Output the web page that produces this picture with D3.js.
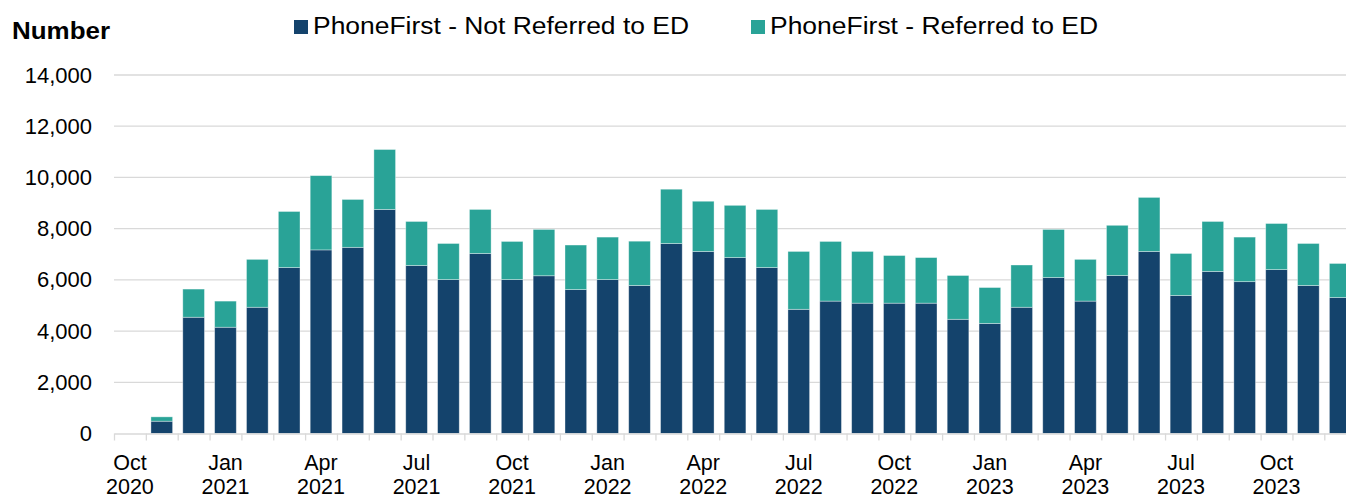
<!DOCTYPE html>
<html>
<head>
<meta charset="utf-8">
<script src="https://cdn.jsdelivr.net/npm/d3@7"></script>
<style>
  body { margin: 0; background: #fff; }
  svg { display: block; font-family: "Liberation Sans", Arial, sans-serif; }
</style>
</head>
<body>
<div id="chart"></div>
<script>
// months shown on the x axis
const months = [
  "Oct 2020", "Nov 2020", "Dec 2020",
  "Jan 2021", "Feb 2021", "Mar 2021", "Apr 2021", "May 2021", "Jun 2021",
  "Jul 2021", "Aug 2021", "Sep 2021", "Oct 2021", "Nov 2021", "Dec 2021",
  "Jan 2022", "Feb 2022", "Mar 2022", "Apr 2022", "May 2022", "Jun 2022",
  "Jul 2022", "Aug 2022", "Sep 2022", "Oct 2022", "Nov 2022", "Dec 2022",
  "Jan 2023", "Feb 2023", "Mar 2023", "Apr 2023", "May 2023", "Jun 2023",
  "Jul 2023", "Aug 2023", "Sep 2023", "Oct 2023", "Nov 2023", "Dec 2023"
];

// PhoneFirst - Not Referred to ED
const notReferred = [
  0, 480, 4540,
  4150, 4930, 6480, 7170, 7270, 8750, 6560, 6010, 7030, 6010, 6160, 5620,
  6010, 5780, 7420, 7110, 6870, 6480, 4850, 5170, 5090, 5090, 5090, 4460,
  4300, 4930, 6090, 5170, 6170, 7110, 5390, 6330, 5930, 6400, 5780, 5310
];

// PhoneFirst - Referred to ED
const referred = [
  0, 170, 1100,
  1020, 1870, 2190, 2900, 1870, 2340, 1720, 1410, 1720, 1490, 1810, 1740,
  1660, 1730, 2120, 1960, 2040, 2270, 2260, 2330, 2020, 1860, 1780, 1710,
  1400, 1650, 1880, 1630, 1960, 2110, 1640, 1950, 1740, 1800, 1640, 1330
];

const seriesNames = ["PhoneFirst - Not Referred to ED", "PhoneFirst - Referred to ED"];
const seriesColors = ["#14436c", "#29a397"];
const yTicks = [0, 2000, 4000, 6000, 8000, 10000, 12000, 14000];

const W = 1346, H = 499;
const plotLeft = 114, plotTop = 75, plotBottom = 433.5;
const step = 31.85;

const svg = d3.select("#chart").append("svg")
  .attr("width", W)
  .attr("height", H);

// scales
const x = d3.scaleBand()
  .domain(months)
  .range([plotLeft, plotLeft + step * months.length])
  .paddingInner(0.32)
  .paddingOuter(0.16);

const xEdge = d3.scaleLinear()
  .domain([0, months.length])
  .range([plotLeft, plotLeft + step * months.length]);

const y = d3.scaleLinear().domain([0, 14000]).range([plotBottom, plotTop]);

// gridlines
svg.append("g")
  .selectAll("line")
  .data(yTicks.slice(1))
  .join("line")
  .attr("x1", plotLeft)
  .attr("x2", W)
  .attr("y1", d => y(d))
  .attr("y2", d => y(d))
  .attr("stroke", "#d9d9d9")
  .attr("stroke-width", 1.3);

// y axis labels
svg.append("g")
  .attr("transform", "translate(92,0)")
  .style("font-size", "22px")
  .call(d3.axisLeft(y).tickValues(yTicks).tickFormat(d3.format(",")).tickSize(0).tickPadding(0))
  .call(g => g.select(".domain").remove())
  .selectAll(".tick text")
  .attr("fill", "#000")
  .style("font-family", "'Liberation Sans', Arial, sans-serif");

// stacked data
const table = months.map((m, i) => ({ month: m, notReferred: notReferred[i], referred: referred[i] }));
const stack = d3.stack().keys(["notReferred", "referred"]);
const layers = stack(table);

svg.append("g")
  .selectAll("g")
  .data(layers)
  .join("g")
  .attr("fill", (d, i) => seriesColors[i])
  .selectAll("rect")
  .data(d => d.filter(p => p[1] - p[0] > 0))
  .join("rect")
  .attr("x", d => x(d.data.month))
  .attr("width", x.bandwidth())
  .attr("y", d => y(d[1]))
  .attr("height", d => y(d[0]) - y(d[1]))
  .attr("stroke", "#ffffff")
  .attr("stroke-opacity", 0.45)
  .attr("stroke-width", 0.8);

// x axis line + tick marks at month boundaries
svg.append("g")
  .attr("transform", `translate(0,${plotBottom})`)
  .call(d3.axisBottom(xEdge).tickValues(d3.range(0, months.length + 1)).tickFormat("").tickSize(7).tickSizeOuter(0))
  .call(g => g.select(".domain").attr("stroke", "#d9d9d9").attr("stroke-width", 1.5))
  .call(g => g.selectAll(".tick line").attr("stroke", "#d9d9d9").attr("stroke-width", 1.3));

// quarterly month labels (two lines)
const labelMonths = months.filter((m, i) => i % 3 === 0);
const xLabels = svg.append("g")
  .selectAll("text")
  .data(labelMonths)
  .join("text")
  .attr("x", d => x(d) + x.bandwidth() / 2)
  .attr("y", 469.5)
  .attr("text-anchor", "middle")
  .style("font-size", "21.5px")
  .attr("fill", "#000");
xLabels.append("tspan")
  .attr("x", d => x(d) + x.bandwidth() / 2)
  .text(d => d.split(" ")[0]);
xLabels.append("tspan")
  .attr("x", d => x(d) + x.bandwidth() / 2)
  .attr("dy", 24.5)
  .text(d => d.split(" ")[1]);

// y axis title
svg.append("text")
  .attr("x", 12)
  .attr("y", 39)
  .style("font-size", "23px")
  .style("font-weight", "bold")
  .attr("textLength", 98)
  .attr("lengthAdjust", "spacingAndGlyphs")
  .text("Number");

// legend
const legendX = [294, 751];
const legendLen = [376, 328];
const legend = svg.append("g")
  .selectAll("g")
  .data(seriesNames)
  .join("g")
  .attr("transform", (d, i) => `translate(${legendX[i]},20)`);
legend.append("rect")
  .attr("width", 14)
  .attr("height", 14)
  .attr("fill", (d, i) => seriesColors[i]);
legend.append("text")
  .attr("x", 19)
  .attr("y", 14)
  .style("font-size", "23px")
  .attr("textLength", (d, i) => legendLen[i])
  .attr("lengthAdjust", "spacingAndGlyphs")
  .text(d => d);
</script>
</body>
</html>
